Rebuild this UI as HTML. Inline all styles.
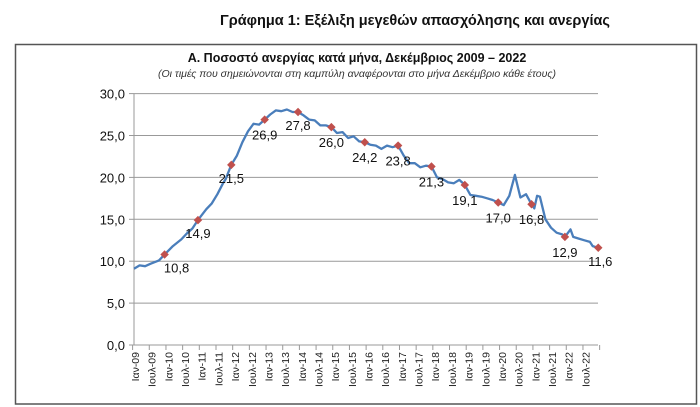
<!DOCTYPE html>
<html><head><meta charset="utf-8"><style>
html,body{margin:0;padding:0;background:#fff;width:700px;height:407px;overflow:hidden}
svg{display:block;font-family:"Liberation Sans","DejaVu Sans",sans-serif}
</style></head><body>
<svg id="s" width="700" height="407" viewBox="0 0 700 407">
<text x="415" y="25" text-anchor="middle" font-size="14.5" font-weight="bold" fill="#111">Γράφημα 1: Εξέλιξη μεγεθών απασχόλησης και ανεργίας</text>
<rect x="15.5" y="44.5" width="681" height="359.5" fill="none" stroke="#555" stroke-width="1.5"/>
<text x="357" y="62" text-anchor="middle" font-size="12.5" font-weight="bold" fill="#111">Α. Ποσοστό ανεργίας κατά μήνα, Δεκέμβριος 2009 – 2022</text>
<text x="357" y="77" text-anchor="middle" font-size="10.5" font-style="italic" fill="#333">(Οι τιμές που σημειώνονται στη καμπύλη αναφέρονται στο μήνα Δεκέμβριο κάθε έτους)</text>
<g id="g"></g>
</svg>
<script>
var g=document.getElementById('g'),h='';
function X(m){return 134+m*2.78;}
function Y(v){return 345-v*8.38;}
for(var i=0;i<=6;i++){var y=Y(i*5);
 h+='<line x1="134" x2="598" y1="'+y+'" y2="'+y+'" stroke="#999" stroke-width="1"/>';
 h+='<line x1="129" x2="134" y1="'+y+'" y2="'+y+'" stroke="#999"/>';
 h+='<text x="125" y="'+(y+5)+'" text-anchor="end" font-size="13" fill="#111">'+(i*5)+',0</text>';}
h+='<line x1="134" x2="134" y1="'+Y(30)+'" y2="345" stroke="#999"/>';
for(var m=0;m<=168;m+=6){var tx=X(m)-1.4;h+='<line x1="'+tx+'" x2="'+tx+'" y1="345" y2="350" stroke="#999"/>';}
for(var k=0;k<28;k++){var m=k*6,yr=9+Math.floor(k/2);var lab=(k%2?'Ιουλ-':'Ιαν-')+(yr<10?'0':'')+yr;
 var x=X(m)+5;h+='<text transform="translate('+x+',352) rotate(-90)" text-anchor="end" font-size="10.5" fill="#222">'+lab+'</text>';}
var K=[[0,9.1],[2,9.5],[4,9.4],[6,9.7],[9,10.1],[11,10.8],[14,11.8],[17,12.6],[19,13.3],[21,13.9],[23,14.9],[26,16.2],[28,16.9],[30,18.0],[32,19.3],[33,19.8],[35,21.5],[37,22.6],[39,24.2],[41,25.5],[43,26.4],[45,26.3],[47,26.9],[49,27.5],[51,28.0],[53,27.9],[55,28.1],[57,27.8],[59,27.8],[61,27.4],[63,26.9],[65,26.8],[67,26.2],[69,26.2],[71,26.0],[73,25.3],[75,25.4],[77,24.7],[79,24.9],[81,24.3],[83,24.2],[85,23.9],[87,23.8],[89,23.4],[91,23.8],[93,23.6],[95,23.8],[97,22.6],[99,21.7],[101,21.7],[103,21.2],[105,21.4],[107,21.3],[109,20.0],[111,19.8],[113,19.4],[115,19.3],[117,19.7],[119,19.1],[121,17.9],[123,17.8],[125,17.7],[127,17.5],[129,17.3],[131,17.0],[133,16.7],[135,17.8],[137,20.3],[139,17.6],[141,18.0],[143,16.8],[144,16.3],[145,17.8],[146,17.7],[148,15.0],[150,14.0],[152,13.4],[154,13.2],[155,12.9],[157,13.8],[158,12.9],[160,12.7],[162,12.5],[164,12.3],[165,11.8],[167,11.6]];
var p=K.map(function(a){return X(a[0]).toFixed(1)+','+Y(a[1]).toFixed(1)}).join(' ');
h+='<polyline points="'+p+'" fill="none" stroke="#4a7ebb" stroke-width="2.3" stroke-linejoin="round"/>';
var D=[10.8,14.9,21.5,26.9,27.8,26.0,24.2,23.8,21.3,19.1,17.0,16.8,12.9,11.6];
var off=[[12,18],[0,18],[0,18],[0,20],[0,18],[0,20],[0,20],[0,20],[0,20],[0,20],[0,20],[0,20],[0,20],[2,18]];
for(var j=0;j<14;j++){var m=11+12*j,x=X(m),y=Y(D[j]);
 h+='<rect x="'+(x-3)+'" y="'+(y-3)+'" width="6" height="6" fill="#c0504d" transform="rotate(45 '+x+' '+y+')"/>';
 h+='<text x="'+(x+off[j][0])+'" y="'+(y+off[j][1])+'" text-anchor="middle" font-size="13" fill="#111">'+D[j].toFixed(1).replace('.',',')+'</text>';}
g.innerHTML=h;
</script>
</body></html>
